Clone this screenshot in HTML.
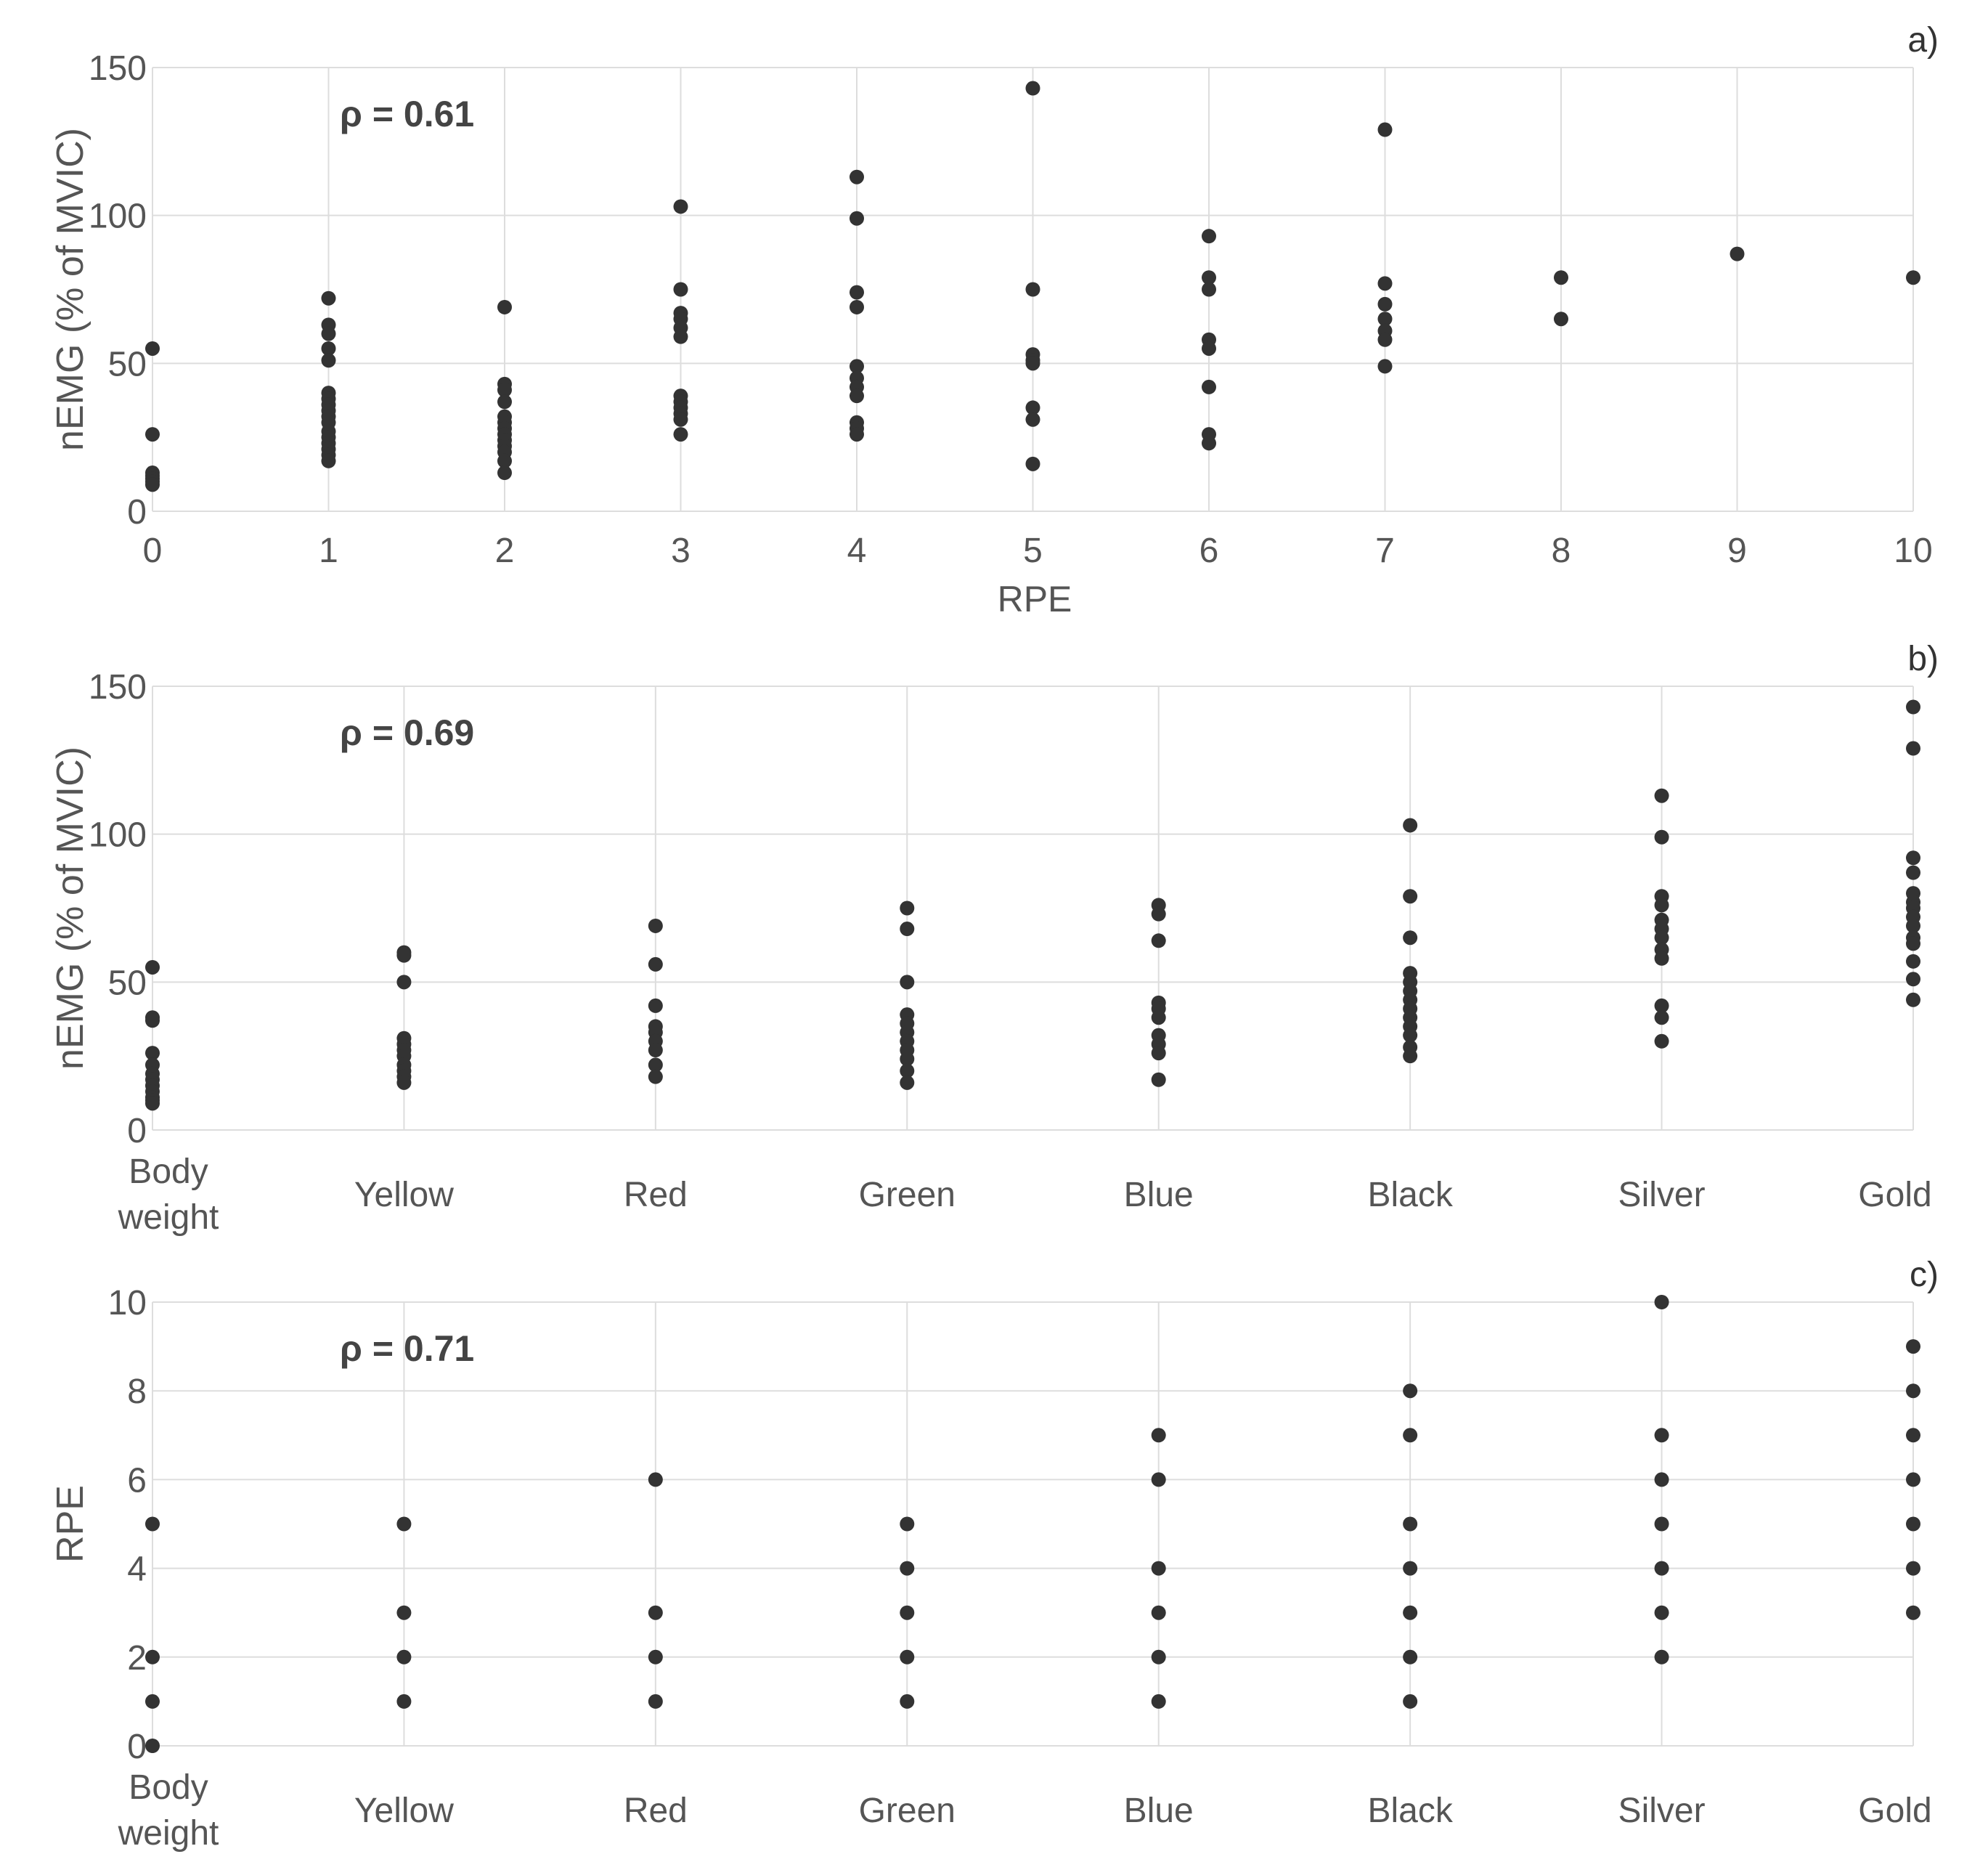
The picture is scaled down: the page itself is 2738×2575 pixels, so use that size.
<!DOCTYPE html>
<html><head><meta charset="utf-8"><style>
html,body{margin:0;padding:0;background:#fff;}
svg{display:block;font-family:"Liberation Sans",sans-serif;}
</style></head><body>
<svg id="fig" width="2738" height="2575" viewBox="0 0 2738 2575" xmlns="http://www.w3.org/2000/svg"></svg>
<script>
// ---- data ----
const rpeCats = [0,1,2,3,4,5,6,7,8,9,10];
const aValues = [
 [55,26,13,12,11,10,9],
 [72,63,60,55,51,40,38,36,34,32,30,27,25,23,21,19,17],
 [69,43,41,37,32,30,28,26,24,22,20,17,13],
 [103,75,67,65,62,59,39,37,35,33,31,26],
 [113,99,74,69,49,45,42,39,30,28,26],
 [143,75,53,51,50,35,31,16],
 [93,79,75,58,55,42,26,23],
 [129,77,70,65,61,58,49],
 [79,65],
 [87],
 [79]
];
const bandCats = ["Body weight","Yellow","Red","Green","Blue","Black","Silver","Gold"];
const bValues = [
 [55,38,37,26,22,19,17,15,13,11,10,9],
 [60,59,50,31,29,27,25,22,20,18,16],
 [69,56,42,35,33,30,27,22,18],
 [75,68,50,39,36,33,30,27,24,20,16],
 [76,73,64,43,41,38,32,29,26,17],
 [103,79,65,53,50,47,44,41,38,35,32,28,25],
 [113,99,79,76,71,68,65,61,58,42,38,30],
 [143,129,92,87,80,77,75,72,69,65,63,57,51,44]
];
const cValues = [
 [5,2,1,0],[5,3,2,1],[6,3,2,1],[5,4,3,2,1],[7,6,4,3,2,1],[8,7,5,4,3,2,1],[10,7,6,5,4,3,2],[9,8,7,6,5,4,3]
];
const emgTicks = [0,50,100,150];
const rpeTicks = [0,2,4,6,8,10];
const rhoLabels = ["ρ = 0.61","ρ = 0.69","ρ = 0.71"];

const NS="http://www.w3.org/2000/svg";
const svg=document.getElementById('fig');
function mk(tag,attrs,parent){const e=document.createElementNS(NS,tag);for(const k in attrs)e.setAttribute(k,attrs[k]);(parent||svg).appendChild(e);return e;}
const L=210,R=2635,TXT="#555";

function panel(top,bottom,ymax,yTicks,nx,xLab,vals,yTitle,rho,tag,pname){
  const g=mk('g',{});
  
  
  const xs=i=>L+(R-L)*i/(nx-1);
  const ys=v=>bottom-(bottom-top)*v/ymax;
  for(let i=0;i<nx;i++){const l=mk('line',{x1:xs(i),x2:xs(i),y1:top,y2:bottom,stroke:'#ddd','stroke-width':2},g);
    }
  yTicks.forEach(t=>{const l=mk('line',{x1:L,x2:R,y1:ys(t),y2:ys(t),stroke:'#ddd','stroke-width':2},g);
    
    const tx=mk('text',{x:L-8,y:ys(t)+17,'text-anchor':'end','font-size':48,fill:TXT},g);tx.textContent=t;
    });
  vals.forEach((arr,i)=>arr.forEach(v=>{const c=mk('circle',{cx:xs(i),cy:ys(v),r:10,fill:'#333'},g);
    }));
  xLab.forEach((lab,i)=>{
    let x=xs(i);
    if(typeof lab==='number'){const t=mk('text',{x:x,y:bottom+70,'text-anchor':'middle','font-size':48,fill:TXT},g);t.textContent=lab;
      }
    else if(lab==="Body weight"){
      const t=mk('text',{x:x+22,y:bottom+73,'text-anchor':'middle','font-size':48,fill:TXT},g);t.textContent="Body";
      
      const t2=mk('text',{x:x+22,y:bottom+136,'text-anchor':'middle','font-size':48,fill:TXT},g);t2.textContent="weight";
      
    } else {
      if(i===nx-1)x-=25;
      const t=mk('text',{x:x,y:bottom+105,'text-anchor':'middle','font-size':48,fill:TXT},g);t.textContent=lab;
      }
  });
  const yt=mk('text',{x:0,y:0,'text-anchor':'middle','font-size':52,fill:TXT,transform:`translate(114,${(top+bottom)/2}) rotate(-90)`},g);yt.textContent=yTitle;
  
  const rt=mk('text',{x:468,y:top+81,'font-size':50,'font-weight':'bold',fill:'#444'},g);rt.textContent=rho;
  
  const pt=mk('text',{x:2670,y:top-22,'text-anchor':'end','font-size':48,fill:'#333'},g);pt.textContent=tag;
  
}
panel(93,704,150,emgTicks,11,rpeCats,aValues,"nEMG (% of MVIC)",rhoLabels[0],"a)","panel-a");
const xt=mk('text',{x:1425,y:842,'text-anchor':'middle','font-size':50,fill:TXT});xt.textContent="RPE";


panel(945,1556,150,emgTicks,8,bandCats,bValues,"nEMG (% of MVIC)",rhoLabels[1],"b)","panel-b");
panel(1793,2404,10,rpeTicks,8,bandCats,cValues,"RPE",rhoLabels[2],"c)","panel-c");
</script>
</body></html>
